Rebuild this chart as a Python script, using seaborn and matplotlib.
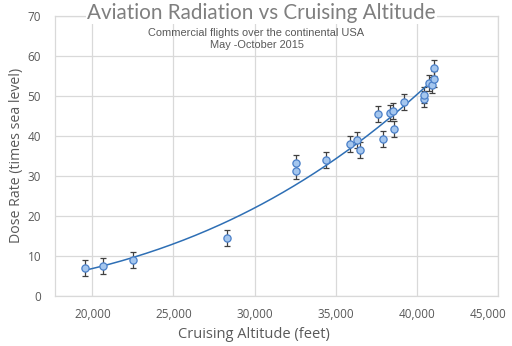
import numpy as np
import pandas as pd
import seaborn as sns
import matplotlib
matplotlib.use("Agg")
import matplotlib.pyplot as plt
from matplotlib.ticker import FuncFormatter
import matplotlib.transforms as mtransforms

# ---- data ----
altitude_ft = [19550, 20660, 22510, 28310, 32550, 32550, 34370, 35900, 36340, 36520,
               37620, 37900, 38330, 38520, 38580, 39220, 40470, 40470, 40770, 40920,
               41050, 41050]
dose_rate = [7.0, 7.5, 9.0, 14.6, 31.2, 33.2, 34.1, 37.9, 39.0, 36.5,
             45.4, 39.2, 45.7, 46.3, 41.8, 48.6, 49.2, 50.3, 53.2, 52.8,
             56.9, 54.3]
dose_err = [2.0] * len(dose_rate)

x_ticks = [20000, 25000, 30000, 35000, 40000, 45000]
y_ticks = [0, 10, 20, 30, 40, 50, 60, 70]

title = "Aviation Radiation vs Cruising Altitude"
subtitle = "Commercial flights over the continental USA\nMay -October 2015"
xlabel = "Cruising Altitude (feet)"
ylabel = "Dose Rate (times sea level)"

df = pd.DataFrame({"alt": altitude_ft, "dose": dose_rate, "err": dose_err})

# power-law trendline fitted to the data (Excel style)
b, lna = np.polyfit(np.log(df["alt"]), np.log(df["dose"]), 1)
xs = np.linspace(min(altitude_ft), max(altitude_ft), 200)
trend = pd.DataFrame({"alt": xs, "dose": np.exp(lna) * xs ** b})

sns.set_theme(style="white")
plt.rcParams["font.family"] = ["Open Sans", "DejaVu Sans"]

fig = plt.figure(figsize=(5.12, 3.46), dpi=100)
ax = fig.add_axes([55 / 512, 1 - 296 / 346, (498 - 55) / 512, (296 - 16) / 346])

ax.errorbar(df["alt"], df["dose"], yerr=df["err"], fmt="none", ecolor="#404040",
            elinewidth=0.9, capsize=2.3, capthick=0.9, zorder=3)
sns.lineplot(data=trend, x="alt", y="dose", ax=ax, color="#2e6fb5", linewidth=1.1,
             zorder=4, legend=False)
sns.scatterplot(data=df, x="alt", y="dose", ax=ax, s=27, color="#a4c6ee",
                edgecolor="#4a7fc8", linewidth=0.9, zorder=5, legend=False)

ax.set_xlim(17700, 45000)
ax.set_ylim(0, 70)
ax.set_xticks(x_ticks)
ax.set_yticks(y_ticks)
ax.xaxis.set_major_formatter(FuncFormatter(lambda v, p: f"{int(v):,}"))
ax.grid(True, color="#d9d9d9", linewidth=0.9)
ax.set_axisbelow(True)
for s in ax.spines.values():
    s.set_color("#d9d9d9")
    s.set_linewidth(0.9)
ax.tick_params(axis="both", length=0, labelsize=8.5, labelcolor="#595959")
ax.tick_params(axis="x", pad=9)
ax.tick_params(axis="y", pad=10)

# shift last x tick label left like the reference
fig.canvas.draw()
lbls = ax.get_xticklabels()
lbls[-1].set_transform(lbls[-1].get_transform() +
                       mtransforms.ScaledTranslation(-10 / 100, 0, fig.dpi_scale_trans))

ax.set_xlabel(xlabel, fontsize=10.5, color="#595959")
ax.xaxis.set_label_coords((254 - 55) / 443, -(335 - 296) / 280, transform=ax.transAxes)
ax.xaxis.label.set_va("center")
ax.set_ylabel(ylabel, fontsize=10.2, color="#595959")
ax.yaxis.set_label_coords(-(55 - 17) / 443, (296 - 155) / 280, transform=ax.transAxes)
ax.yaxis.label.set_va("center")

fig.text(0.511, 1 - 13 / 346, title, ha="center", va="center", fontsize=14.9,
         color="#7f7f7f", family=["Lato", "DejaVu Sans"],
         bbox=dict(facecolor="white", edgecolor="none", pad=1))
fig.text(0.501, 1 - 39 / 346, subtitle, ha="center", va="center", fontsize=7.9,
         color="#595959", family=["Liberation Sans", "DejaVu Sans"], linespacing=1.35)

fig.savefig("out.png", dpi=100)
